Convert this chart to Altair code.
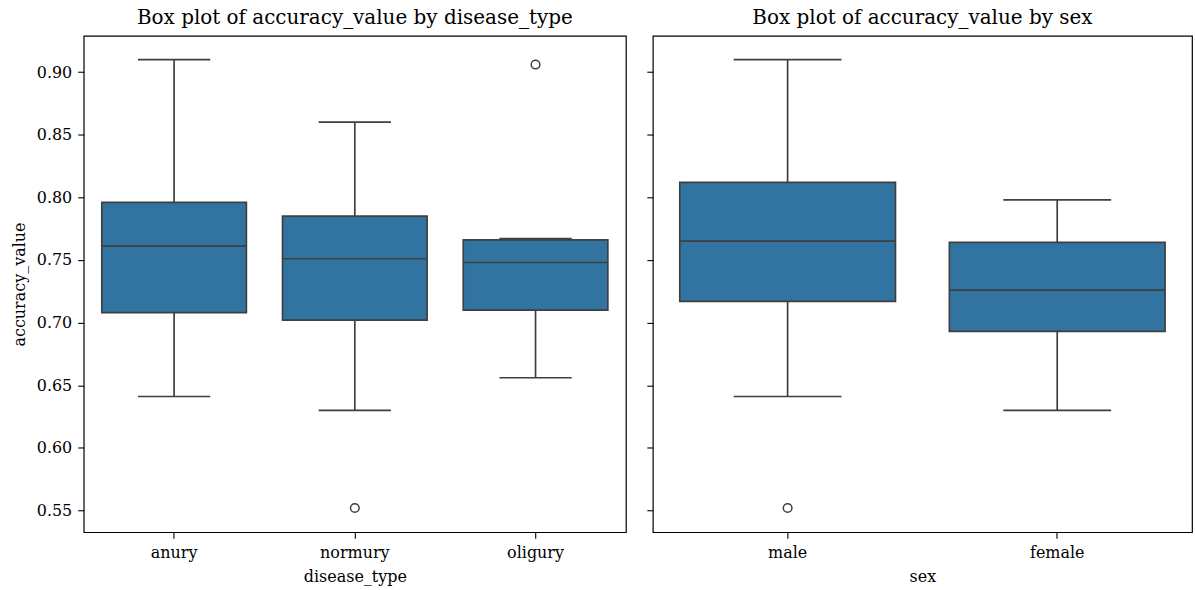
import altair as alt
import pandas as pd

# Five-number summaries per group (whiskers at 1.5 IQR) and outlying points
disease_types = ["anury", "normury", "oligury"]
dt_whisker_low = [0.641, 0.630, 0.656]
dt_q1 = [0.708, 0.702, 0.710]
dt_median = [0.761, 0.751, 0.748]
dt_q3 = [0.796, 0.785, 0.766]
dt_whisker_high = [0.910, 0.860, 0.767]
dt_outlier_groups = ["normury", "oligury"]
dt_outlier_values = [0.552, 0.906]

sexes = ["male", "female"]
sex_whisker_low = [0.641, 0.630]
sex_q1 = [0.717, 0.693]
sex_median = [0.765, 0.726]
sex_q3 = [0.812, 0.764]
sex_whisker_high = [0.910, 0.798]
sex_outlier_groups = ["male"]
sex_outlier_values = [0.552]

y_ticks = [0.55, 0.60, 0.65, 0.70, 0.75, 0.80, 0.85, 0.90]
y_domain = [0.5327, 0.9289]

BOX_FILL = "#3274a1"
LINE = "#3f3f3f"
PANEL_H = 498
LW = 1.7


def panel(field, cats, low, q1, med, q3, high, out_groups, out_values,
          title, width, show_y_labels):
    stats = pd.DataFrame({field: cats, "low": low, "q1": q1, "median": med,
                          "q3": q3, "high": high})
    outs = pd.DataFrame({field: out_groups, "value": out_values})
    step = width / len(cats)
    box_px = 0.8 * step
    cap_px = 0.4 * step

    x = alt.X(f"{field}:N", sort=cats, title=field,
              scale=alt.Scale(paddingInner=0.2, paddingOuter=0.1),
              axis=alt.Axis(labelAngle=0, domain=False, tickColor="#000",
                            tickSize=6, tickWidth=1.1, labelPadding=6,
                            titlePadding=8))
    if show_y_labels:
        yaxis = alt.Axis(values=y_ticks, format=".2f", domain=False,
                         tickColor="#000", tickSize=6, tickWidth=1.1,
                         grid=False, labelPadding=6, titlePadding=9)
        ytitle = "accuracy_value"
    else:
        yaxis = alt.Axis(values=y_ticks, labels=False, domain=False,
                         tickColor="#000", tickSize=6, tickWidth=1.1,
                         grid=False)
        ytitle = None
    yscale = alt.Scale(domain=y_domain, nice=False, zero=False)

    base = alt.Chart(stats)
    whisker = base.mark_rule(color=LINE, strokeWidth=LW).encode(
        x=x,
        y=alt.Y("low:Q", scale=yscale, axis=yaxis, title=ytitle),
        y2="high:Q",
    )
    box = base.mark_bar(fill=BOX_FILL, stroke=LINE, strokeWidth=LW).encode(
        x=x, y=alt.Y("q1:Q", scale=yscale), y2="q3:Q"
    )
    median = base.mark_tick(orient="horizontal", size=box_px, thickness=LW,
                            color=LINE, opacity=1).encode(
        x=x, y=alt.Y("median:Q", scale=yscale)
    )
    cap_low = base.mark_tick(orient="horizontal", size=cap_px, thickness=LW,
                             color=LINE, opacity=1).encode(
        x=x, y=alt.Y("low:Q", scale=yscale)
    )
    cap_high = base.mark_tick(orient="horizontal", size=cap_px, thickness=LW,
                              color=LINE, opacity=1).encode(
        x=x, y=alt.Y("high:Q", scale=yscale)
    )
    fliers = alt.Chart(outs).mark_point(shape="circle", filled=False,
                                         stroke=LINE, strokeWidth=1.5,
                                         size=75, opacity=1).encode(
        x=x, y=alt.Y("value:Q", scale=yscale)
    )
    return alt.layer(whisker, box, median, cap_low, cap_high, fliers).properties(
        width=width, height=PANEL_H,
        title=alt.TitleParams(title, fontSize=20, fontWeight="normal",
                              offset=8, color="#000"),
    )


left = panel("disease_type", disease_types, dt_whisker_low, dt_q1, dt_median,
             dt_q3, dt_whisker_high, dt_outlier_groups, dt_outlier_values,
             "Box plot of accuracy_value by disease_type", 544, True)
right = panel("sex", sexes, sex_whisker_low, sex_q1, sex_median, sex_q3,
              sex_whisker_high, sex_outlier_groups, sex_outlier_values,
              "Box plot of accuracy_value by sex", 541, False)

chart = alt.hconcat(left, right, spacing=18).properties(
    padding={"left": 10, "top": 6, "right": 2, "bottom": 0}
).configure(
    font="DejaVu Serif",
).configure_view(
    stroke="#000", strokeWidth=1.2
).configure_axis(
    labelFontSize=16, titleFontSize=16, labelColor="#000", titleColor="#000",
    titleFontWeight="normal", labelFont="DejaVu Serif", titleFont="DejaVu Serif"
).configure_title(
    font="DejaVu Serif"
)

chart.save("out.html", embed_options={"renderer": "svg", "actions": False})
